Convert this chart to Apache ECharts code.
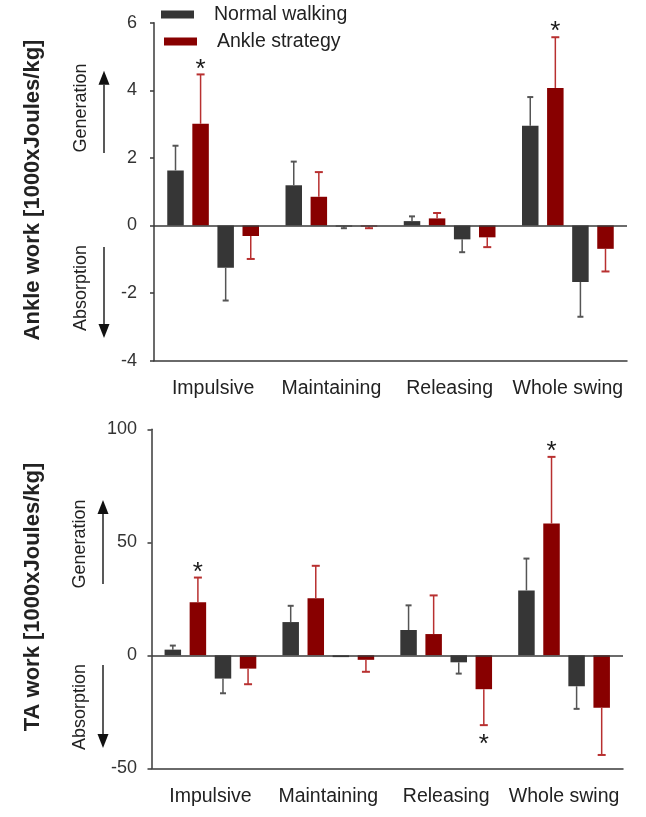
<!DOCTYPE html>
<html>
<head>
<meta charset="utf-8">
<script src="https://cdn.jsdelivr.net/npm/echarts@6/dist/echarts.min.js"></script>
<style>
html,body{margin:0;padding:0;background:#fff;}
#chart{width:646px;height:817px;}
</style>
</head>
<body>
<div id="chart"></div>
<script>
// ---------- data ----------
const categories = ['Impulsive', 'Maintaining', 'Releasing', 'Whole swing'];
const seriesNames = ['Normal walking', 'Ankle strategy'];

// Ankle work [1000xJoules/kg]
const ankleNormalGen      = [1.63, 1.19, 0.13, 2.95];
const ankleNormalGenSD    = [0.73, 0.70, 0.14, 0.85];
const ankleStrategyGen    = [3.01, 0.85, 0.21, 4.07];
const ankleStrategyGenSD  = [1.46, 0.73, 0.16, 1.50];
const ankleNormalAbs      = [-1.25, -0.03, -0.41, -1.67];
const ankleNormalAbsSD    = [0.97, 0.05, 0.38, 1.03];
const ankleStrategyAbs    = [-0.31, -0.03, -0.35, -0.69];
const ankleStrategyAbsSD  = [0.68, 0.05, 0.29, 0.67];
const ankleStrategyGenSig = [1, 0, 0, 1];
const ankleTicks = { min: -4, max: 6, interval: 2 };

// TA work [1000xJoules/kg]
const taNormalGen      = [2.5, 14.7, 11.2, 28.7];
const taNormalGenSD    = [1.8, 7.2, 10.9, 14.1];
const taStrategyGen    = [23.5, 25.2, 9.4, 58.3];
const taStrategyGenSD  = [10.9, 14.4, 17.1, 29.5];
const taNormalAbs      = [-10.3, -0.8, -3.1, -13.7];
const taNormalAbsSD    = [6.5, 0, 5.0, 10.0];
const taStrategyAbs    = [-5.9, -2.0, -15.0, -23.2];
const taStrategyAbsSD  = [6.9, 5.3, 15.9, 20.9];
const taStrategyGenSig = [1, 0, 0, 1];
const taStrategyAbsSig = [0, 0, 1, 0];
const taTicks = { min: -50, max: 100, interval: 50 };

// ---------- style ----------
const FONT = "'Liberation Sans', Arial, Helvetica, sans-serif";
const DARK = '#363636';
const RED = '#880000';
const DARK_ERR = '#555555';
const RED_ERR = '#b83030';
const AXIS = '#3a3a3a';
const BAR_W = 16.5;
const BAR_GAP = 0.52;

const chart = echarts.init(document.getElementById('chart'), null, { renderer: 'canvas' });

function errRender(k, color, capW) {
  return function (params, api) {
    const cat = api.value(0), v = api.value(1), sd = api.value(2), sig = api.value(3);
    const dirVal = v >= 0 ? 1 : -1;
    const base = api.coord([cat, v]);
    const end = api.coord([cat, v + dirVal * sd]);
    const off = (k - 1.5) * BAR_W * (1 + BAR_GAP);
    const x = base[0] + off;
    const children = [];
    if (sd > 0) {
      children.push({ type: 'line', shape: { x1: x, y1: base[1], x2: x, y2: end[1] }, style: { stroke: color, lineWidth: 1.5 } });
      children.push({ type: 'line', shape: { x1: x - capW / 2, y1: end[1], x2: x + capW / 2, y2: end[1] }, style: { stroke: color, lineWidth: 2 } });
    }
    if (sig) {
      const dy = dirVal > 0 ? -5 : 20;
      children.push({ type: 'text', x: x, y: end[1] + dy, style: { text: '*', font: '26px ' + FONT, fill: '#1a1a1a', align: 'center', verticalAlign: 'middle' } });
    }
    return { type: 'group', children: children };
  };
}

function makeErrData(vals, sds, sig) {
  return vals.map((v, i) => [i, v, sds[i], sig ? sig[i] : 0]);
}

function panelSeries(gi, groups) {
  const out = [];
  groups.forEach((g, k) => {
    const s = {
      type: 'bar', name: g.name, xAxisIndex: gi, yAxisIndex: gi,
      data: g.vals, barWidth: BAR_W, barGap: (BAR_GAP * 100) + '%',
      itemStyle: { color: g.color }, silent: true
    };
    if (k === 0) {
      s.markLine = {
        silent: true, symbol: 'none', label: { show: false },
        lineStyle: { color: AXIS, width: 1.5, type: 'solid' },
        data: [{ yAxis: 0 }]
      };
    }
    out.push(s);
  });
  groups.forEach((g, k) => {
    out.push({
      type: 'custom', name: 'err' + gi + '_' + k, xAxisIndex: gi, yAxisIndex: gi,
      renderItem: errRender(k, g.errColor, g.cap),
      data: makeErrData(g.vals, g.sds, g.sig),
      encode: { x: 0, y: 1 }, z: 3, silent: true, clip: false
    });
  });
  return out;
}

const series = []
  .concat(panelSeries(0, [
    { name: seriesNames[0], vals: ankleNormalGen, sds: ankleNormalGenSD, color: DARK, errColor: DARK_ERR, cap: 6 },
    { name: seriesNames[1], vals: ankleStrategyGen, sds: ankleStrategyGenSD, sig: ankleStrategyGenSig, color: RED, errColor: RED_ERR, cap: 8 },
    { name: seriesNames[0], vals: ankleNormalAbs, sds: ankleNormalAbsSD, color: DARK, errColor: DARK_ERR, cap: 6 },
    { name: seriesNames[1], vals: ankleStrategyAbs, sds: ankleStrategyAbsSD, color: RED, errColor: RED_ERR, cap: 8 }
  ]))
  .concat(panelSeries(1, [
    { name: seriesNames[0], vals: taNormalGen, sds: taNormalGenSD, color: DARK, errColor: DARK_ERR, cap: 6 },
    { name: seriesNames[1], vals: taStrategyGen, sds: taStrategyGenSD, sig: taStrategyGenSig, color: RED, errColor: RED_ERR, cap: 8 },
    { name: seriesNames[0], vals: taNormalAbs, sds: taNormalAbsSD, color: DARK, errColor: DARK_ERR, cap: 6 },
    { name: seriesNames[1], vals: taStrategyAbs, sds: taStrategyAbsSD, sig: taStrategyAbsSig, color: RED, errColor: RED_ERR, cap: 8 }
  ]));

function xAxis(gi) {
  return {
    type: 'category', gridIndex: gi, data: categories,
    axisLine: { onZero: false, lineStyle: { color: AXIS, width: 1.5 } },
    axisTick: { alignWithLabel: true, length: 6, lineStyle: { color: AXIS, width: 1.5 } },
    axisLabel: { color: '#222', fontSize: 19.5, fontFamily: FONT, margin: 18, interval: 0 },
    splitLine: { show: false }
  };
}
function yAxis(gi, t, margin) {
  return {
    type: 'value', gridIndex: gi, min: t.min, max: t.max, interval: t.interval,
    axisLine: { show: true, lineStyle: { color: AXIS, width: 1.5 } },
    axisTick: { show: true, length: 4, lineStyle: { color: AXIS, width: 1.5 } },
    axisLabel: { color: '#333', fontSize: 18, fontFamily: FONT, margin: margin },
    splitLine: { show: false }
  };
}

function arrow(x, yTail, yTip) {
  const dir = yTip < yTail ? 1 : -1;
  const headLen = 14, headW = 11;
  const yBase = yTip + dir * headLen;
  return [
    { type: 'line', shape: { x1: x, y1: yTail, x2: x, y2: yBase }, style: { stroke: '#222', lineWidth: 1.5 }, silent: true },
    { type: 'polygon', shape: { points: [[x, yTip], [x - headW / 2, yBase], [x + headW / 2, yBase]] }, style: { fill: '#111' }, silent: true }
  ];
}
function vtext(txt, x, y, font) {
  return { type: 'text', x: x, y: y, rotation: Math.PI / 2, silent: true,
    style: { text: txt, font: font, fill: '#222', align: 'center', verticalAlign: 'middle' } };
}

const graphics = []
  .concat([
    vtext('Ankle work [1000xJoules/kg]', 33, 190, 'bold 22px ' + FONT),
    vtext('Generation', 81, 108, '18px ' + FONT),
    vtext('Absorption', 81, 288, '18px ' + FONT),
    vtext('TA work [1000xJoules/kg]', 33, 597, 'bold 22px ' + FONT),
    vtext('Generation', 80, 544, '18px ' + FONT),
    vtext('Absorption', 80, 707, '18px ' + FONT)
  ])
  .concat(arrow(104, 153, 70.7))
  .concat(arrow(104, 247, 338))
  .concat(arrow(103, 584, 500))
  .concat(arrow(103, 665, 748));

const option = {
  animation: false,
  backgroundColor: '#ffffff',
  textStyle: { fontFamily: FONT },
  legend: [
    { data: [seriesNames[0]], left: 161, top: 4.5, padding: 0, orient: 'vertical', icon: 'rect', itemWidth: 33, itemHeight: 8,
      textStyle: { fontSize: 19.5, color: '#222', fontFamily: FONT, padding: [0, 0, 0, 15] }, selectedMode: false },
    { data: [seriesNames[1]], left: 164, top: 31.5, padding: 0, orient: 'vertical', icon: 'rect', itemWidth: 33, itemHeight: 8,
      textStyle: { fontSize: 19.5, color: '#222', fontFamily: FONT, padding: [0, 0, 0, 15] }, selectedMode: false }
  ],
  grid: [
    { left: 154, right: 19, top: 22.7, height: 338 },
    { left: 151.5, right: 23, top: 429.3, height: 339 }
  ],
  xAxis: [xAxis(0), xAxis(1)],
  yAxis: [yAxis(0, ankleTicks, 17), yAxis(1, taTicks, 14.5)],
  series: series,
  graphic: graphics
};
chart.setOption(option);
</script>
</body>
</html>
